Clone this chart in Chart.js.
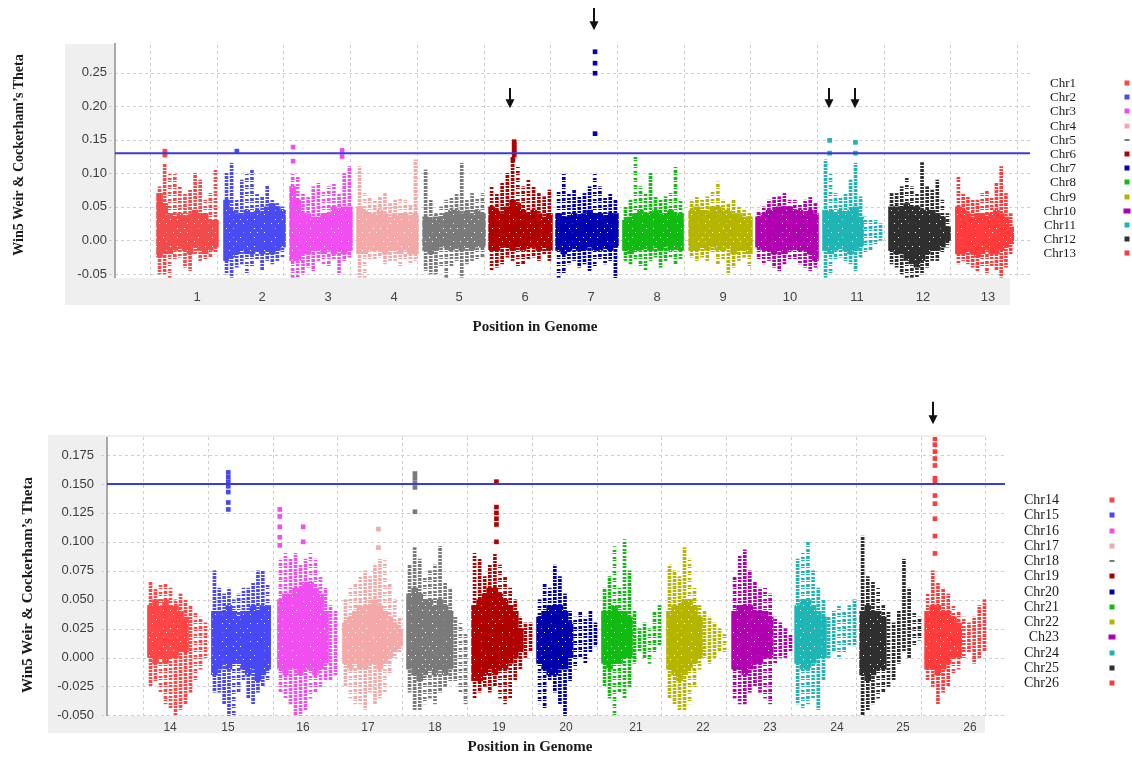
<!DOCTYPE html>
<html><head><meta charset="utf-8">
<script src="https://cdn.jsdelivr.net/npm/chart.js@4.4.1/dist/chart.umd.min.js"></script>
<style>
body{margin:0;width:1132px;height:760px;position:relative;overflow:hidden;background:#fff;font-family:"Liberation Serif","Times New Roman",serif;color:#1a1a1a}
.panel{position:absolute;left:0;width:1132px}
.ytitle{position:absolute;white-space:nowrap;transform:translate(-50%,-50%) rotate(-90deg);font-weight:bold}
.xtitle{position:absolute;white-space:nowrap;transform:translate(-50%,-50%);font-weight:bold}
.lt{position:absolute;white-space:nowrap;transform:translate(-100%,-50%)}
.lm{position:absolute;transform:translate(-50%,-50%)}
</style></head>
<body>
<div class="panel" style="top:0;height:340px"><canvas id="c1"></canvas></div>
<div class="panel" style="top:400px;height:360px"><canvas id="c2"></canvas></div>
<div id="overlay"></div>
<script>
// ---------------- TOP PANEL DATA ----------------
const topChrNames=['Chr1','Chr2','Chr3','Chr4','Chr5','Chr6','Chr7','Chr8','Chr9','Chr10','Chr11','Chr12','Chr13'];
const topTickLabels=['1','2','3','4','5','6','7','8','9','10','11','12','13'];
const topTickPos=[0.705,1.679,2.669,3.658,4.633,5.622,6.612,7.601,8.591,9.595,10.600,11.589,12.564];
const topChrStart=[0.105,1.109,2.099,3.103,4.093,5.082,6.087,7.091,8.081,9.085,10.090,11.079,12.084];
const topChrEnd=[1.019,2.024,3.028,4.018,5.022,6.027,7.016,7.991,9.025,10.015,10.990,11.994,12.939];
const topYTicks=[-0.05,0,0.05,0.10,0.15,0.20,0.25,0.30];
const topYTickLabels=['-0.05','0.00','0.05','0.10','0.15','0.20','0.25','0.30'];
const topThreshold=0.13;
const topHi=[
[0.08,0.115,0.10,0.10,0.08,0.07,0.075,0.10,0.09,0.06,0.07,0.105],
[0.10,0.115,0.06,0.09,0.10,0.105,0.07,0.065,0.082,0.06,0.055,0.05],
[0.10,0.095,0.07,0.065,0.08,0.085,0.075,0.08,0.085,0.07,0.10,0.11],
[0.11,0.07,0.065,0.06,0.065,0.07,0.055,0.06,0.065,0.06,0.055,0.12],
[0.105,0.06,0.04,0.05,0.06,0.065,0.07,0.115,0.06,0.07,0.065,0.07],
[0.08,0.07,0.085,0.10,0.125,0.11,0.08,0.09,0.08,0.07,0.065,0.075],
[0.075,0.10,0.07,0.075,0.065,0.07,0.08,0.10,0.08,0.065,0.07,0.06],
[0.05,0.06,0.125,0.08,0.07,0.10,0.065,0.06,0.065,0.07,0.11,0.06],
[0.06,0.065,0.06,0.065,0.075,0.087,0.06,0.055,0.06,0.05,0.045,0.04],
[0.045,0.05,0.06,0.065,0.065,0.07,0.06,0.06,0.055,0.06,0.065,0.055],
[0.12,0.10,0.07,0.065,0.07,0.09,0.115,0.065,0.035,0.03,0.03,0.025],
[0.07,0.07,0.08,0.095,0.08,0.07,0.116,0.08,0.075,0.09,0.06,0.04],
[0.095,0.07,0.065,0.06,0.06,0.07,0.075,0.065,0.085,0.11,0.07,0.04]];
const topCoreHi=[
[0.07,0.055,0.04,0.035,0.04,0.035,0.04,0.045,0.04,0.04,0.03,0.03],
[0.06,0.045,0.04,0.04,0.045,0.04,0.045,0.04,0.05,0.055,0.05,0.045],
[0.08,0.06,0.04,0.04,0.035,0.035,0.04,0.04,0.05,0.045,0.05,0.05],
[0.05,0.045,0.04,0.04,0.045,0.04,0.035,0.04,0.04,0.04,0.035,0.04],
[0.035,0.03,0.035,0.035,0.04,0.045,0.045,0.04,0.045,0.04,0.045,0.04],
[0.05,0.045,0.04,0.05,0.06,0.055,0.045,0.04,0.045,0.04,0.035,0.04],
[0.04,0.035,0.035,0.04,0.035,0.04,0.045,0.04,0.04,0.035,0.04,0.04],
[0.03,0.035,0.04,0.045,0.04,0.04,0.045,0.04,0.04,0.045,0.04,0.04],
[0.045,0.05,0.045,0.045,0.05,0.05,0.045,0.045,0.04,0.04,0.035,0.035],
[0.035,0.04,0.045,0.045,0.05,0.05,0.05,0.045,0.045,0.04,0.045,0.04],
[0.045,0.045,0.04,0.045,0.04,0.045,0.05,0.035,null,null,null,null],
[0.05,0.05,0.05,0.055,0.05,0.05,0.045,0.045,0.045,0.04,0.035,0.02],
[0.05,0.045,0.04,0.035,0.04,0.04,0.035,0.04,0.045,0.04,0.035,0.02]];
const topCoreLo=[
[-0.025,-0.02,-0.02,-0.015,-0.01,-0.015,-0.02,-0.01,-0.015,-0.02,-0.015,-0.01],
[-0.03,-0.025,-0.02,-0.015,-0.02,-0.02,-0.015,-0.02,-0.015,-0.02,-0.015,-0.01],
[-0.03,-0.03,-0.02,-0.02,-0.015,-0.015,-0.02,-0.015,-0.02,-0.015,-0.02,-0.015],
[-0.02,-0.02,-0.015,-0.015,-0.015,-0.02,-0.015,-0.015,-0.02,-0.015,-0.02,-0.02],
[-0.015,-0.02,-0.015,-0.01,-0.01,-0.015,-0.01,-0.015,-0.01,-0.015,-0.01,-0.01],
[-0.015,-0.015,-0.01,-0.01,-0.015,-0.01,-0.015,-0.01,-0.01,-0.015,-0.01,-0.015],
[-0.015,-0.02,-0.015,-0.01,-0.015,-0.015,-0.01,-0.015,-0.015,-0.01,-0.015,-0.01],
[-0.015,-0.02,-0.015,-0.015,-0.01,-0.015,-0.01,-0.015,-0.01,-0.015,-0.01,-0.015],
[-0.015,-0.015,-0.01,-0.015,-0.01,-0.015,-0.015,-0.01,-0.02,-0.015,-0.015,-0.02],
[-0.01,-0.015,-0.015,-0.02,-0.015,-0.02,-0.015,-0.01,-0.015,-0.015,-0.02,-0.03],
[-0.015,-0.02,-0.015,-0.01,-0.015,-0.02,-0.015,-0.01,null,null,null,null],
[-0.015,-0.02,-0.02,-0.03,-0.035,-0.04,-0.03,-0.02,-0.015,-0.015,-0.01,0.0],
[-0.02,-0.02,-0.015,-0.02,-0.025,-0.02,-0.015,-0.02,-0.02,-0.015,-0.01,-0.005]];
const topLo=[
[-0.05,-0.05,-0.055,-0.03,-0.025,-0.04,-0.045,-0.02,-0.03,-0.03,-0.025,-0.02],
[-0.05,-0.055,-0.04,-0.035,-0.05,-0.04,-0.03,-0.045,-0.03,-0.035,-0.03,-0.025],
[-0.055,-0.055,-0.05,-0.04,-0.045,-0.03,-0.035,-0.04,-0.03,-0.05,-0.03,-0.025],
[-0.055,-0.055,-0.03,-0.03,-0.025,-0.035,-0.03,-0.03,-0.04,-0.03,-0.035,-0.03],
[-0.045,-0.05,-0.05,-0.04,-0.055,-0.04,-0.03,-0.055,-0.035,-0.03,-0.03,-0.025],
[-0.045,-0.04,-0.035,-0.025,-0.03,-0.04,-0.035,-0.03,-0.025,-0.03,-0.02,-0.03],
[-0.055,-0.05,-0.035,-0.03,-0.04,-0.035,-0.045,-0.04,-0.03,-0.035,-0.03,-0.06],
[-0.03,-0.035,-0.03,-0.04,-0.045,-0.03,-0.025,-0.04,-0.03,-0.025,-0.035,-0.03],
[-0.025,-0.03,-0.025,-0.03,-0.02,-0.035,-0.03,-0.05,-0.04,-0.03,-0.025,-0.04],
[-0.03,-0.035,-0.03,-0.04,-0.045,-0.035,-0.03,-0.03,-0.035,-0.04,-0.045,-0.04],
[-0.055,-0.05,-0.03,-0.025,-0.03,-0.035,-0.045,-0.025,-0.02,-0.015,-0.005,0.0],
[-0.035,-0.04,-0.05,-0.055,-0.055,-0.055,-0.05,-0.04,-0.03,-0.03,-0.02,-0.01],
[-0.035,-0.03,-0.035,-0.04,-0.045,-0.04,-0.05,-0.04,-0.045,-0.055,-0.04,-0.02]];
const topPeakChr=[1,1,1,2,3,3,3,3,6,6,6,6,6,6,6,7,7,7,7,11,11,11,11];
const topPeakPos=[0.13,0.13,0.13,0.21,0.05,0.05,0.84,0.84,0.4,0.4,0.4,0.4,0.4,0.4,0.38,0.63,0.63,0.63,0.63,0.11,0.11,0.54,0.54];
const topPeakVal=[0.133,0.13,0.127,0.133,0.139,0.118,0.134,0.125,0.147,0.143,0.139,0.135,0.131,0.127,0.12,0.281,0.264,0.249,0.159,0.149,0.13,0.146,0.13];
const topArrowChr=[6,7,11,11];
const topArrowPos=[0.34,0.61,0.1,0.53];
const topArrowFrom=[0.227,0.346,0.227,0.227];
const topArrowTo=[0.197,0.313,0.197,0.197];

// ---------------- BOTTOM PANEL DATA ----------------
const botChrNames=['Chr14','Chr15','Chr16','Chr17','Chr18','Chr19','Chr20','Chr21','Chr22','Ch23','Chr24','Chr25','Chr26'];
const botTickLabels=['14','15','16','17','18','19','20','21','22','23','24','25','26'];
const botTickPos=[0.417,1.312,2.469,3.472,4.506,5.494,6.528,7.608,8.642,9.676,10.710,11.728,12.762];
const botChrStart=[0.077,1.065,2.083,3.086,4.074,5.077,6.080,7.083,8.086,9.090,10.062,11.065,12.068];
const botChrEnd=[1.003,1.960,3.009,3.997,5.015,6.019,7.022,8.009,9.012,10.031,11.019,12.022,13.025];
const botYTicks=[-0.05,-0.025,0,0.025,0.05,0.075,0.10,0.125,0.15,0.175];
const botYTickLabels=['-0.050','-0.025','0.000','0.025','0.050','0.075','0.100','0.125','0.150','0.175'];
const botThreshold=0.15;
const botHi=[
[0.065,0.06,0.065,0.065,0.06,0.05,0.055,0.05,0.045,0.04,0.035,0.03],
[0.075,0.06,0.055,0.06,0.05,0.055,0.06,0.06,0.065,0.075,0.075,0.065],
[0.085,0.09,0.085,0.09,0.08,0.085,0.09,0.085,0.07,0.06,0.045,0.04],
[0.05,0.06,0.065,0.07,0.075,0.07,0.08,0.085,0.085,0.065,0.05,0.035],
[0.08,0.095,0.085,0.07,0.075,0.08,0.096,0.065,0.06,0.035,0.03,0.02],
[0.09,0.085,0.07,0.08,0.09,0.08,0.07,0.06,0.05,0.035,0.03,0.03],
[0.05,0.065,0.06,0.08,0.07,0.055,0.04,0.035,0.04,0.035,0.04,0.03],
[0.06,0.07,0.096,0.06,0.102,0.075,0.04,0.025,0.03,0.025,0.04,0.045],
[0.08,0.075,0.07,0.095,0.085,0.06,0.045,0.04,0.035,0.03,0.025,0.02],
[0.07,0.088,0.093,0.075,0.065,0.06,0.06,0.055,0.035,0.03,0.025,0.02],
[0.085,0.09,0.10,0.075,0.06,0.05,0.035,0.04,0.045,0.04,0.045,0.05],
[0.105,0.07,0.065,0.06,0.045,0.04,0.03,0.04,0.085,0.06,0.04,0.035],
[0.055,0.075,0.065,0.06,0.055,0.045,0.04,0.035,0.03,0.035,0.045,0.05]];
const botCoreHi=[
[0.045,0.05,0.045,0.05,0.045,0.045,0.04,0.035,null,null,null,null],
[0.04,0.04,0.04,0.045,0.04,0.035,0.04,0.04,0.045,0.04,0.045,0.045],
[0.05,0.055,0.055,0.06,0.06,0.065,0.065,0.06,0.055,0.04,null,null],
[0.03,0.035,0.04,0.045,0.045,0.045,0.05,0.045,0.04,0.035,0.03,0.025],
[0.055,0.06,0.055,0.05,0.05,0.045,0.05,0.045,0.04,null,null,null],
[0.045,0.05,0.055,0.06,0.06,0.055,0.05,0.045,0.04,0.025,null,null],
[0.035,0.04,0.045,0.045,0.045,0.04,0.03,null,null,null,null,null],
[0.04,0.04,0.045,0.04,0.04,0.035,null,null,null,null,null,null],
[0.04,0.045,0.045,0.05,0.05,0.045,0.035,null,null,null,null,null],
[0.04,0.045,0.045,0.045,0.04,0.04,0.04,0.035,null,null,null,null],
[0.045,0.05,0.05,0.045,0.04,0.035,null,null,null,null,null,null],
[0.04,0.045,0.04,0.04,0.035,null,null,null,null,null,null,null],
[0.04,0.045,0.045,0.04,0.04,0.035,0.03,null,null,null,null,null]];
const botCoreLo=[
[0.0,-0.005,0.0,-0.005,0.0,0.0,0.005,0.005,null,null,null,null],
[-0.015,-0.01,-0.005,-0.01,-0.005,-0.005,-0.01,-0.015,-0.01,-0.02,-0.015,-0.01],
[-0.01,-0.015,-0.01,-0.01,-0.015,-0.01,-0.01,-0.015,-0.01,-0.005,null,null],
[-0.005,-0.01,-0.005,-0.01,-0.01,-0.005,-0.005,-0.01,-0.005,0.0,0.005,0.01],
[-0.01,-0.015,-0.02,-0.015,-0.01,-0.015,-0.01,-0.015,-0.01,null,null,null],
[-0.02,-0.02,-0.015,-0.01,-0.015,-0.01,-0.01,-0.005,0.0,0.005,null,null],
[-0.005,-0.01,-0.015,-0.015,-0.01,-0.01,0.0,null,null,null,null,null],
[-0.005,-0.01,-0.005,-0.005,0.0,0.0,null,null,null,null,null,null],
[-0.01,-0.015,-0.02,-0.015,-0.01,-0.005,0.0,null,null,null,null,null],
[-0.01,-0.01,-0.015,-0.01,-0.005,-0.005,0.0,0.0,null,null,null,null],
[-0.005,-0.01,-0.01,-0.005,0.0,0.0,null,null,null,null,null,null],
[-0.015,-0.02,-0.015,-0.01,-0.01,null,null,null,null,null,null,null],
[-0.01,-0.01,-0.015,-0.01,-0.005,0.0,0.0,null,null,null,null,null]];
const botLo=[
[-0.025,-0.02,-0.03,-0.04,-0.045,-0.05,-0.045,-0.04,-0.03,-0.02,-0.01,0.0],
[-0.03,-0.03,-0.04,-0.05,-0.05,-0.03,-0.02,-0.035,-0.04,-0.03,-0.025,-0.02],
[-0.03,-0.035,-0.04,-0.05,-0.05,-0.045,-0.035,-0.03,-0.025,-0.02,-0.02,-0.015],
[-0.025,-0.035,-0.04,-0.04,-0.045,-0.03,-0.04,-0.035,-0.03,-0.015,0.0,0.005],
[-0.03,-0.045,-0.045,-0.04,-0.035,-0.04,-0.03,-0.025,-0.02,-0.02,-0.03,-0.04],
[-0.035,-0.03,-0.025,-0.03,-0.025,-0.035,-0.04,-0.035,-0.02,-0.01,0.0,0.005],
[-0.04,-0.045,-0.02,-0.03,-0.04,-0.05,-0.02,-0.01,0.0,-0.005,0.005,0.01],
[-0.025,-0.035,-0.05,-0.03,-0.035,-0.025,-0.005,0.005,0.0,-0.005,0.005,0.01],
[-0.035,-0.04,-0.045,-0.045,-0.04,-0.025,-0.01,0.0,-0.005,0.0,0.005,0.005],
[-0.035,-0.04,-0.04,-0.03,-0.025,-0.03,-0.035,-0.04,-0.005,0.0,0.0,0.005],
[-0.04,-0.045,-0.04,-0.035,-0.045,-0.02,0.0,0.005,0.0,0.005,0.01,0.01],
[-0.05,-0.045,-0.04,-0.035,-0.03,-0.025,-0.02,-0.005,0.005,0.0,0.01,0.015],
[-0.02,-0.025,-0.04,-0.03,-0.025,-0.015,-0.01,0.0,0.005,-0.005,0.0,0.005]];
const botPeakChr=[15,15,15,15,15,15,15,16,16,16,16,16,16,16,17,17,18,18,18,18,18,19,19,19,19,19,19,26,26,26,26,26,26,26,26,26,26,26,26];
const botPeakPos=[0.28,0.28,0.28,0.28,0.28,0.28,0.28,0.03,0.03,0.03,0.03,0.03,0.42,0.42,0.6,0.6,0.13,0.13,0.13,0.13,0.13,0.4,0.4,0.4,0.4,0.4,0.4,0.16,0.16,0.16,0.16,0.16,0.16,0.16,0.16,0.16,0.16,0.16,0.16];
const botPeakVal=[0.16,0.156,0.152,0.148,0.143,0.134,0.128,0.128,0.122,0.113,0.104,0.097,0.113,0.10,0.111,0.095,0.159,0.155,0.151,0.147,0.126,0.152,0.13,0.125,0.12,0.115,0.10,0.189,0.184,0.178,0.172,0.166,0.155,0.152,0.14,0.133,0.12,0.105,0.09];
const botArrowChr=[26];
const botArrowPos=[0.13];
const botArrowFrom=[0.221];
const botArrowTo=[0.2016];

// ---------------- STYLES ----------------
const topColors=['#f24b4b','#4b4bf2','#f04ef0','#f4a9a9','#7a7a7a','#b00000','#0000b0','#12bb12','#b5b500','#b000b0','#1fb5b5','#2f2f2f','#ff3b3b'];
const botColors=['#ff4545','#4848f5','#f04ef0','#f4a9a9','#7a7a7a','#b00000','#0000aa','#12bb12','#b5b500','#b000b0','#1fb5b5','#2f2f2f','#ff3b3b'];

// dotted fills so the sparse outer streaks read as stacked square markers
function dotPattern(color,shift){
  const c=document.createElement('canvas');c.width=3;c.height=7;
  const g=c.getContext('2d');g.fillStyle=color;
  g.fillRect(0,shift%7,3,3);g.fillRect(0,(shift+4)%7,3,2);
  return g.createPattern(c,'repeat');
}
function speckPattern(color){
  const c=document.createElement('canvas');c.width=7;c.height=9;
  const g=c.getContext('2d');g.fillStyle=color;g.fillRect(0,0,7,9);
  g.clearRect(2,3,1,1);g.clearRect(5,7,1,1);
  return g.createPattern(c,'repeat');
}

function buildDatasets(P){
  const ds=[];
  ds.push({type:'line',data:[{x:P.xMin,y:P.threshold},{x:P.xMax,y:P.threshold}],borderColor:'#3a3ae0',borderWidth:2,pointRadius:0,order:0});
  const px=[],py=[],pc=[];
  P.peakChr.forEach((c,i)=>{const k=c-P.firstChr;px.push(P.start[k]+(P.end[k]-P.start[k])*P.peakPos[i]);py.push(P.peakVal[i]);pc.push(P.colors[k]);});
  ds.push({type:'scatter',data:px.map((x,i)=>({x:x,y:py[i]})),pointStyle:'rect',pointRadius:3.3,pointBorderWidth:0,pointBackgroundColor:pc,order:1});
  for(let c=0;c<P.start.length;c++){
    const n=P.hi[c].length,s=P.start[c],e=P.end[c];
    const bx=i=>s+(e-s)*(i+0.5)/n;
    const pats=[0,1,2,3,4,5,6].map(k=>dotPattern(P.colors[c],k));
    ds.push({type:'bar',data:P.cHi[c].map((h,i)=>h===null?null:{x:bx(i),y:[P.cLo[c][i],h]}).filter(Boolean),backgroundColor:speckPattern(P.colors[c]),barThickness:6,grouped:false,order:2});
    ds.push({type:'bar',data:P.hi[c].map((h,i)=>({x:bx(i),y:[P.lo[c][i],h]})),backgroundColor:P.hi[c].map((h,i)=>pats[(i*3+c)%7]),barThickness:3,grouped:false,order:3});
  }
  return ds;
}

function decoPlugin(P){
  return {id:'deco',
    beforeDraw(chart){
      const ctx=chart.ctx,a=chart.chartArea,xs=chart.scales.x,ys=chart.scales.y;
      ctx.save();
      ctx.fillStyle='#efefef';ctx.fillRect(P.grey[0],P.grey[1],P.grey[2]-P.grey[0],P.grey[3]-P.grey[1]);
      ctx.fillStyle='#ffffff';ctx.fillRect(a.left,a.top,a.right-a.left,a.bottom-a.top);
      ctx.strokeStyle='#cfcfcf';ctx.lineWidth=1;ctx.setLineDash([3,3]);
      P.yTicks.forEach(v=>{const y=Math.round(ys.getPixelForValue(v))+0.5;ctx.beginPath();ctx.moveTo(a.left-6,y);ctx.lineTo(a.right,y);ctx.stroke();});
      for(let g=Math.ceil(xs.min);g<=xs.max;g++){const x=Math.round(xs.getPixelForValue(g))+0.5;ctx.beginPath();ctx.moveTo(x,a.top);ctx.lineTo(x,a.bottom);ctx.stroke();}
      ctx.setLineDash([]);
      ctx.strokeStyle='#a8a8a8';ctx.lineWidth=2;ctx.beginPath();ctx.moveTo(a.left,a.top);ctx.lineTo(a.left,a.bottom);ctx.stroke();
      ctx.restore();
    },
    afterDraw(chart){
      const ctx=chart.ctx,xs=chart.scales.x,ys=chart.scales.y;
      ctx.save();
      if(P.cutTop){ctx.fillStyle='#fff';ctx.fillRect(0,0,chart.width,P.cutTop);}
      ctx.strokeStyle='#111';ctx.fillStyle='#111';ctx.lineWidth=2;
      P.arrowChr.forEach((c,i)=>{
        const k=c-P.firstChr;
        const x=Math.round(xs.getPixelForValue(P.start[k]+(P.end[k]-P.start[k])*P.arrowPos[i]));
        const y1=ys.getPixelForValue(P.arrowFrom[i]),y2=ys.getPixelForValue(P.arrowTo[i]);
        ctx.beginPath();ctx.moveTo(x,y1);ctx.lineTo(x,y2-7);ctx.stroke();
        ctx.beginPath();ctx.moveTo(x-4.5,y2-9);ctx.lineTo(x+4.5,y2-9);ctx.lineTo(x,y2);ctx.closePath();ctx.fill();
      });
      ctx.restore();
    }};
}

function makeChart(id,P){
  return new Chart(document.getElementById(id),{
    type:'bar',
    data:{datasets:buildDatasets(P)},
    options:{
      responsive:true,maintainAspectRatio:false,animation:false,devicePixelRatio:1,events:[],
      layout:{padding:P.padding},
      plugins:{legend:{display:false},tooltip:{enabled:false}},
      scales:{
        x:{type:'linear',offset:false,min:P.xMin,max:P.xMax,
          afterBuildTicks:s=>{s.ticks=P.tickPos.map(v=>({value:v}));},
          afterFit:s=>{s.height=P.xAxisH;},
          ticks:{autoSkip:false,maxRotation:0,minRotation:0,padding:P.xTickPad,color:'#444',font:{family:'Liberation Sans',size:P.xFont},callback:(v,i)=>P.tickLabels[i]},
          grid:{display:false,drawTicks:false,offset:false},border:{display:false}},
        y:{type:'linear',min:P.yMin,max:P.yMax,
          afterBuildTicks:s=>{s.ticks=P.yTicks.map(v=>({value:v}));},
          afterFit:s=>{s.width=P.yAxisW;},
          ticks:{padding:P.yTickPad,color:'#3c3c3c',font:{family:'Liberation Sans',size:13},callback:(v,i)=>P.yTickLabels[i]},
          grid:{display:false,drawTicks:false},border:{display:false}}
      }
    },
    plugins:[decoPlugin(P)]
  });
}

makeChart('c1',{
  firstChr:1,start:topChrStart,end:topChrEnd,colors:topColors,hi:topHi,cHi:topCoreHi,cLo:topCoreLo,lo:topLo,
  peakChr:topPeakChr,peakPos:topPeakPos,peakVal:topPeakVal,threshold:topThreshold,
  arrowChr:topArrowChr,arrowPos:topArrowPos,arrowFrom:topArrowFrom,arrowTo:topArrowTo,
  tickPos:topTickPos,tickLabels:topTickLabels,yTicks:topYTicks,yTickLabels:topYTickLabels,
  xMin:-0.525,xMax:13.193,yMin:-0.056,yMax:0.30,
  padding:{left:5,right:102,top:39,bottom:12},xAxisH:50,yAxisW:110,xTickPad:12,yTickPad:8,xFont:13,
  grey:[65,44,1010,305],cutTop:43
});
makeChart('c2',{
  firstChr:14,start:botChrStart,end:botChrEnd,colors:botColors,hi:botHi,cHi:botCoreHi,cLo:botCoreLo,lo:botLo,
  peakChr:botPeakChr,peakPos:botPeakPos,peakVal:botPeakVal,threshold:botThreshold,
  arrowChr:botArrowChr,arrowPos:botArrowPos,arrowFrom:botArrowFrom,arrowTo:botArrowTo,
  tickPos:botTickPos,tickLabels:botTickLabels,yTicks:botYTicks,yTickLabels:botYTickLabels,
  xMin:-0.556,xMax:13.302,yMin:-0.0505,yMax:0.1906,
  padding:{left:5,right:127,top:37,bottom:14},xAxisH:30,yAxisW:102,xTickPad:4,yTickPad:13,xFont:12,
  grey:[48,35,985,333],cutTop:0
});

// ---------------- TITLES & LEGENDS (HTML text) ----------------
const ov=document.getElementById('overlay');
function addDiv(cls,txt,x,y,style){const d=document.createElement('div');d.className=cls;d.textContent=txt;d.style.left=x+'px';d.style.top=y+'px';Object.assign(d.style,style||{});ov.appendChild(d);return d;}
addDiv('ytitle','Win5 Weir & Cockerham\u2019s Theta',19,155,{fontSize:'14px'});
addDiv('ytitle','Win5 Weir & Cockerham\u2019s Theta',27,585,{fontSize:'15px'});
addDiv('xtitle','Position in Genome',535,326,{fontSize:'15px'});
addDiv('xtitle','Position in Genome',530,746,{fontSize:'15px'});
function legend(names,colors,tx,mx,y0,dy,fs,dash){
  names.forEach((n,i)=>{
    const y=y0+dy*i;
    addDiv('lt',n,tx,y,{fontSize:fs+'px'});
    addDiv('lm','',mx,y,{width:(colors[i]==='#b000b0'?7:5)+'px',height:(i===dash?2:5)+'px',background:colors[i]});
  });
}
legend(topChrNames,topColors,1076,1127,83,14.2,13,4);
legend(botChrNames,botColors,1059,1112,500,15.25,14,4);
</script>
</body></html>
